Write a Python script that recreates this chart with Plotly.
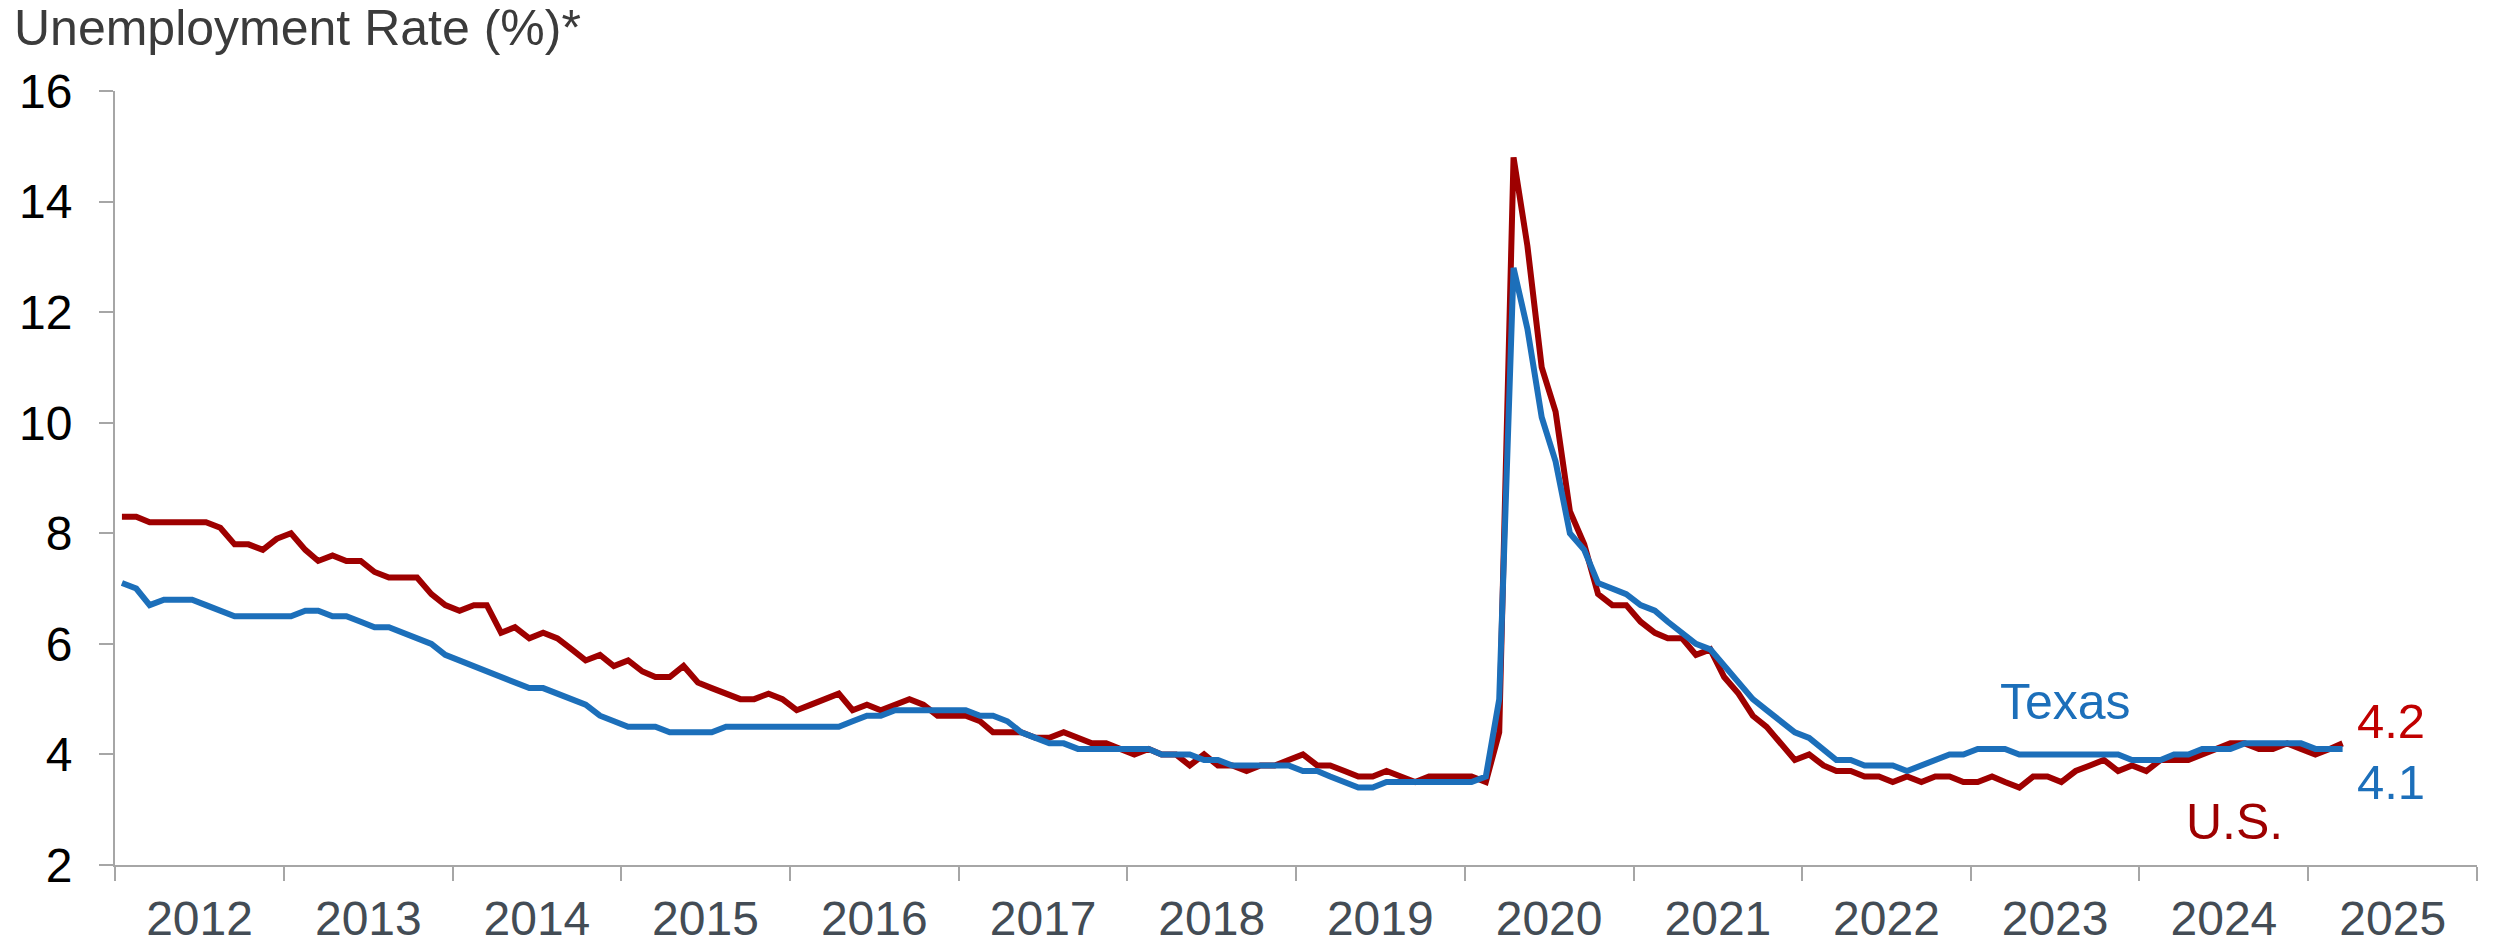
import pandas as pd
import plotly.graph_objects as go

# Monthly unemployment rate (%), Jan 2012 - Mar 2025
us_rate = [
    8.3, 8.3, 8.2, 8.2, 8.2, 8.2, 8.2, 8.1, 7.8, 7.8, 7.7, 7.9,   # 2012
    8.0, 7.7, 7.5, 7.6, 7.5, 7.5, 7.3, 7.2, 7.2, 7.2, 6.9, 6.7,   # 2013
    6.6, 6.7, 6.7, 6.2, 6.3, 6.1, 6.2, 6.1, 5.9, 5.7, 5.8, 5.6,   # 2014
    5.7, 5.5, 5.4, 5.4, 5.6, 5.3, 5.2, 5.1, 5.0, 5.0, 5.1, 5.0,   # 2015
    4.8, 4.9, 5.0, 5.1, 4.8, 4.9, 4.8, 4.9, 5.0, 4.9, 4.7, 4.7,   # 2016
    4.7, 4.6, 4.4, 4.4, 4.4, 4.3, 4.3, 4.4, 4.3, 4.2, 4.2, 4.1,   # 2017
    4.0, 4.1, 4.0, 4.0, 3.8, 4.0, 3.8, 3.8, 3.7, 3.8, 3.8, 3.9,   # 2018
    4.0, 3.8, 3.8, 3.7, 3.6, 3.6, 3.7, 3.6, 3.5, 3.6, 3.6, 3.6,   # 2019
    3.6, 3.5, 4.4, 14.8, 13.2, 11.0, 10.2, 8.4, 7.8, 6.9, 6.7, 6.7,  # 2020
    6.4, 6.2, 6.1, 6.1, 5.8, 5.9, 5.4, 5.1, 4.7, 4.5, 4.2, 3.9,   # 2021
    4.0, 3.8, 3.7, 3.7, 3.6, 3.6, 3.5, 3.6, 3.5, 3.6, 3.6, 3.5,   # 2022
    3.5, 3.6, 3.5, 3.4, 3.6, 3.6, 3.5, 3.7, 3.8, 3.9, 3.7, 3.8,   # 2023
    3.7, 3.9, 3.9, 3.9, 4.0, 4.1, 4.2, 4.2, 4.1, 4.1, 4.2, 4.1,   # 2024
    4.0, 4.1, 4.2,                                                 # 2025
]

texas_rate = [
    7.1, 7.0, 6.7, 6.8, 6.8, 6.8, 6.7, 6.6, 6.5, 6.5, 6.5, 6.5,   # 2012
    6.5, 6.6, 6.6, 6.5, 6.5, 6.4, 6.3, 6.3, 6.2, 6.1, 6.0, 5.8,   # 2013
    5.7, 5.6, 5.5, 5.4, 5.3, 5.2, 5.2, 5.1, 5.0, 4.9, 4.7, 4.6,   # 2014
    4.5, 4.5, 4.5, 4.4, 4.4, 4.4, 4.4, 4.5, 4.5, 4.5, 4.5, 4.5,   # 2015
    4.5, 4.5, 4.5, 4.5, 4.6, 4.7, 4.7, 4.8, 4.8, 4.8, 4.8, 4.8,   # 2016
    4.8, 4.7, 4.7, 4.6, 4.4, 4.3, 4.2, 4.2, 4.1, 4.1, 4.1, 4.1,   # 2017
    4.1, 4.1, 4.0, 4.0, 4.0, 3.9, 3.9, 3.8, 3.8, 3.8, 3.8, 3.8,   # 2018
    3.7, 3.7, 3.6, 3.5, 3.4, 3.4, 3.5, 3.5, 3.5, 3.5, 3.5, 3.5,   # 2019
    3.5, 3.6, 5.0, 12.8, 11.7, 10.1, 9.3, 8.0, 7.7, 7.1, 7.0, 6.9,  # 2020
    6.7, 6.6, 6.4, 6.2, 6.0, 5.9, 5.6, 5.3, 5.0, 4.8, 4.6, 4.4,   # 2021
    4.3, 4.1, 3.9, 3.9, 3.8, 3.8, 3.8, 3.7, 3.8, 3.9, 4.0, 4.0,   # 2022
    4.1, 4.1, 4.1, 4.0, 4.0, 4.0, 4.0, 4.0, 4.0, 4.0, 4.0, 3.9,   # 2023
    3.9, 3.9, 4.0, 4.0, 4.1, 4.1, 4.1, 4.2, 4.2, 4.2, 4.2, 4.2,   # 2024
    4.1, 4.1, 4.1,                                                 # 2025
]

start_month = "2012-01"
y_ticks = [2, 4, 6, 8, 10, 12, 14, 16]
title_text = "Unemployment Rate (%)*"

# month categories, plotted at the middle of each month
months = pd.date_range(start=start_month, periods=len(us_rate), freq="MS") + pd.Timedelta(days=15)

RED = "#9e0000"
RED_LABEL = "#c00000"
BLUE = "#1c6fba"
AXIS = "#a6a6a6"
FONT = "Liberation Sans, Arial, sans-serif"

fig = go.Figure()
fig.add_trace(go.Scatter(x=months, y=us_rate, mode="lines", name="U.S.",
                         line=dict(color=RED, width=6)))
fig.add_trace(go.Scatter(x=months, y=texas_rate, mode="lines", name="Texas",
                         line=dict(color=BLUE, width=6)))

last_us = us_rate[-1]
last_tx = texas_rate[-1]

annotations = [
    dict(text=title_text, xref="paper", yref="paper", x=-0.0436, y=1.0, yshift=63,
         xanchor="left", yanchor="middle", showarrow=False,
         font=dict(size=50, color="#3b3b3b", family=FONT)),
    dict(text="Texas", x="2023-07-25", y=4.94, xanchor="center", yanchor="middle",
         showarrow=False, font=dict(size=50, color=BLUE, family=FONT)),
    dict(text="U.S.", x="2024-07-25", y=2.78, xanchor="center", yanchor="middle",
         showarrow=False, font=dict(size=50, color=RED, family=FONT)),
    dict(text=f"{last_us:.1f}", x="2025-04-12", y=4.6, xanchor="left", yanchor="middle",
         showarrow=False, font=dict(size=49, color=RED_LABEL, family=FONT)),
    dict(text=f"{last_tx:.1f}", x="2025-04-12", y=3.5, xanchor="left", yanchor="middle",
         showarrow=False, font=dict(size=49, color=BLUE, family=FONT)),
]

fig.update_layout(
    width=2503, height=944,
    margin=dict(l=115, r=26, t=91, b=79, autoexpand=False),
    paper_bgcolor="white", plot_bgcolor="white",
    showlegend=False,
    annotations=annotations,
    font=dict(family=FONT),
)

fig.update_xaxes(
    type="date",
    range=["2012-01-01", "2026-01-01"],
    tick0="2012-01-01", dtick="M12",
    tickformat="%Y", ticklabelmode="period",
    showline=True, linecolor=AXIS, linewidth=2,
    ticks="outside", ticklen=14, tickwidth=2, tickcolor=AXIS,
    showgrid=False, zeroline=False, automargin=False,
    tickfont=dict(size=48, color="#434c55", family=FONT),
    ticklabelstandoff=-4,
)
fig.update_yaxes(
    range=[2, 16], tickvals=y_ticks,
    showline=True, linecolor=AXIS, linewidth=2,
    ticks="outside", ticklen=14, tickwidth=2, tickcolor=AXIS,
    showgrid=False, zeroline=False, automargin=False,
    tickfont=dict(size=48, color="#000000", family=FONT),
    ticklabelstandoff=17,
)

fig.write_html("out.html")
